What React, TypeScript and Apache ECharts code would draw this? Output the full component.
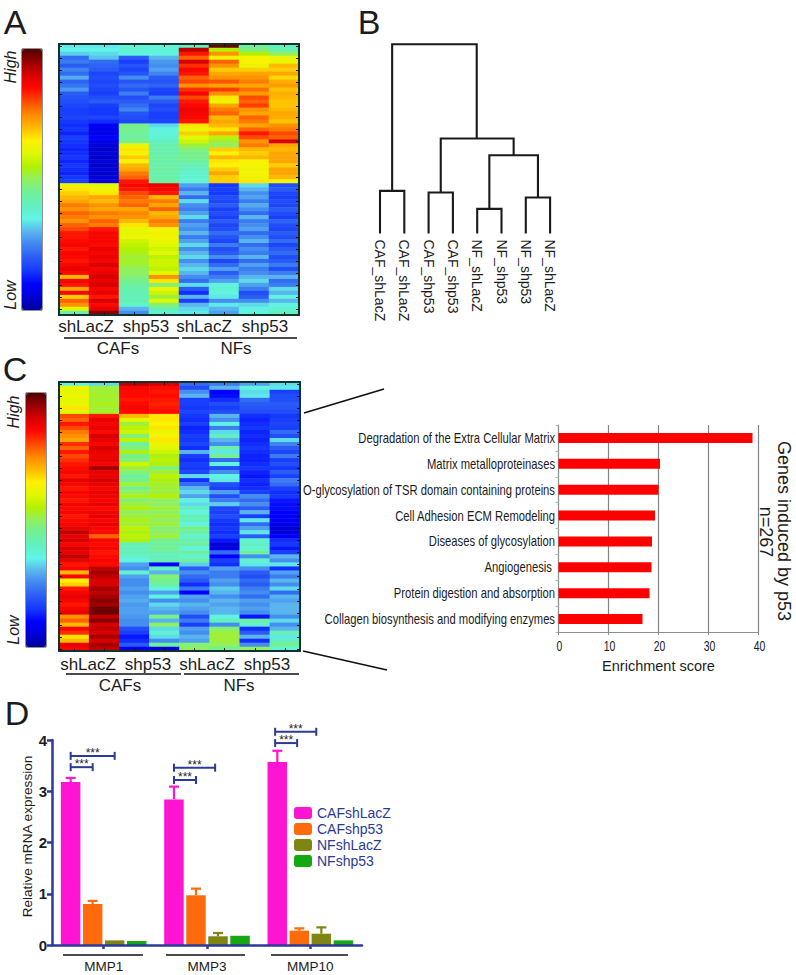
import React, { useEffect, useRef } from "react";
import * as echarts from "echarts";

const FONT = "'Liberation Sans', Arial, sans-serif";
const NAVY = "#2b3a98";
const INK = "#1c1c1c";

const jetStops = ["#00009a","#0000d8","#0000ff","#1538ff","#2a5cf5","#3f85f0","#5ab4ee","#60f5e8","#62f0c0","#70f098","#90f060","#b4f000","#e0f800","#fff000","#ffb800","#ff8800","#ff4800","#ff0800","#d80000","#980000","#500000"];

const heatColumns = ["1", "2", "3", "4", "5", "6", "7", "8"];

const heatA: number[][] = [
[34,34,37,37,40,98,44,40],[35,35,38,37,92,55,47,42],[32,33,36,36,84,74,55,50],[22,31,20,30,78,62,64,62],
[24,22,16,27,90,78,64,62],[20,21,19,26,82,74,62,70],[25,20,17,28,86,68,68,68],[22,17,19,25,84,72,72,72],
[29,18,26,20,78,74,74,67],[21,17,19,19,80,79,76,71],[23,18,22,21,74,72,72,73],[27,17,19,17,82,81,77,69],
[20,16,24,16,86,74,73,71],[19,18,18,24,80,66,80,70],[18,20,20,20,84,62,78,69],[17,16,22,17,85,72,81,69],
[16,15,25,18,87,76,74,70],[16,15,19,16,86,78,72,72],[17,17,18,16,85,70,78,71],[15,14,17,17,84,72,76,69],
[14,9,46,33,66,70,72,74],[15,8,46,36,62,66,78,76],[13,7,45,36,68,72,84,80],[16,10,44,38,60,56,80,78],
[15,7,46,40,58,52,74,90],[14,5,62,42,52,50,76,72],[13,4,66,43,48,68,70,70],[14,5,63,42,46,64,68,72],
[15,4,68,44,46,70,70,72],[13,5,64,43,44,66,64,72],[15,4,70,43,41,64,64,68],[14,5,72,44,40,68,62,72],
[13,4,76,42,38,72,64,72],[15,5,78,43,38,68,62,70],[16,6,84,44,37,68,66,64],
[62,60,86,88,28,15,33,18],[66,62,84,86,24,16,30,20],[68,66,80,84,30,15,26,17],[70,72,78,70,22,18,28,16],
[72,70,76,76,33,17,24,18],[76,74,78,72,26,20,29,17],[74,72,72,78,24,16,26,20],[78,76,75,70,28,18,22,18],
[76,74,74,72,33,16,30,16],[74,78,70,76,24,20,24,21],[78,76,66,74,28,17,26,18],[80,84,62,64,26,18,28,17],
[84,86,60,62,30,22,22,20],[84,86,63,63,24,19,26,18],[85,86,58,62,28,17,30,22],[86,85,56,60,33,24,22,17],
[84,88,55,58,26,18,26,20],[86,86,54,60,30,20,24,22],[85,88,52,56,33,26,30,18],[84,86,53,58,26,17,22,20],
[86,90,52,58,30,22,28,24],[88,86,50,56,33,28,24,18],[85,88,50,60,30,20,26,24],[70,90,48,74,26,24,30,30],
[86,88,46,66,22,28,33,22],[84,90,44,48,33,36,28,24],[72,86,42,62,20,38,24,33],[86,88,42,58,14,36,18,30],
[68,84,40,52,30,34,20,36],[78,90,42,60,16,26,26,30],[74,85,38,48,30,34,33,36],[60,88,30,42,33,30,36,38],
[42,96,26,38,34,28,36,40],
];

const heatC: number[][] = [
[36,33,92,90,22,24,28,33],[62,52,86,85,18,30,36,34],[60,52,85,84,26,10,33,16],[63,53,85,85,30,11,34,18],
[60,52,84,84,16,14,22,18],[62,54,85,83,16,18,20,20],[66,52,86,84,15,16,19,19],[60,53,85,85,17,18,18,18],
[80,84,70,66,15,30,14,15],[78,88,60,66,14,26,13,16],[84,86,52,64,16,36,14,17],[80,88,56,66,13,24,15,16],
[76,85,58,62,14,33,13,22],[74,90,48,64,16,40,14,18],[72,88,56,66,15,30,13,33],[82,86,44,62,17,26,14,25],
[78,90,48,60,14,42,15,20],[84,88,54,58,30,34,14,17],[80,87,46,54,16,46,13,24],[82,88,48,56,14,22,13,16],
[84,86,58,54,16,36,14,18],[85,94,52,48,15,18,15,15],[86,88,48,52,17,26,13,20],[84,88,44,56,33,36,12,16],
[88,90,46,54,14,34,14,24],[86,88,52,53,22,18,13,22],[84,86,46,52,30,16,14,16],[86,88,50,52,33,28,16,14],
[85,87,54,55,28,18,26,15],[84,86,48,50,36,24,22,12],[86,88,52,50,33,32,26,11],[85,85,54,52,40,17,20,11],
[86,87,50,50,36,16,30,10],[84,88,52,52,42,18,16,10],[85,86,54,50,40,15,34,9],[86,88,52,52,36,14,22,7],
[88,86,56,48,46,15,28,5],[92,85,54,50,44,14,34,5],[88,78,56,52,38,16,20,10],[90,86,54,46,42,12,38,14],
[86,85,42,44,44,5,40,15],[90,86,40,46,36,6,38,12],[88,84,42,42,44,22,44,16],[92,85,38,40,38,10,26,30],
[88,86,36,42,44,16,38,26],[84,85,28,10,32,14,34,34],[86,92,26,40,20,28,26,14],[70,94,38,30,26,24,20,28],
[86,92,28,48,22,24,18,24],[64,90,26,46,20,28,22,30],[68,90,26,44,14,26,20,26],[84,94,28,36,24,32,24,33],
[86,92,26,28,10,30,26,22],[88,94,28,36,28,26,22,30],[86,96,29,26,26,30,28,28],[84,94,27,33,30,28,26,30],
[86,98,28,30,28,30,28,30],[88,98,28,28,26,30,26,30],[74,92,27,46,18,36,12,26],[78,96,26,30,24,40,44,33],
[70,90,26,50,16,26,38,26],[86,92,18,33,28,48,14,30],[82,90,16,38,26,52,20,42],[66,94,12,33,30,52,30,34],
[70,90,14,26,28,52,14,40],[88,94,20,44,48,50,26,46],[86,92,8,6,50,46,50,36],
];

const groupLabels = ["shLacZ", "shp53", "shLacZ", "shp53"];
const cohortLabels = ["CAFs", "NFs"];

const leafNames = ["CAF_shLacZ","CAF_shLacZ","CAF_shp53","CAF_shp53","NF_shLacZ","NF_shp53","NF_shp53","NF_shLacZ"];
// [left x, left height, right x, right height, merge height]
const dendroLinks: number[][] = [
  [0, 0, 1, 0, 42.6],
  [2, 0, 3, 0, 41],
  [4, 0, 5, 0, 24.6],
  [6, 0, 7, 0, 36],
  [4.5, 24.6, 6.5, 36, 78.3],
  [2.5, 41, 5.5, 78.3, 95],
  [0.5, 42.6, 3.98, 95, 189.3],
];

const pathwayNames = ["Degradation of the Extra Cellular Matrix","Matrix metalloproteinases","O-glycosylation of TSR domain containing proteins","Cell Adhesion ECM Remodeling","Diseases of glycosylation","Angiogenesis ","Protein digestion and absorption","Collagen biosynthesis and modifying enzymes"];
const pathwayScores = [38.8, 20.3, 20, 19.3, 18.7, 18.6, 18.2, 16.8];
const scoreTicks = [0, 10, 20, 30, 40];

const genes = ["MMP1", "MMP3", "MMP10"];
const cafShLacZ = [3.18, 2.84, 3.57];
const cafShp53 = [0.8, 0.97, 0.28];
const nfShLacZ = [0.09, 0.17, 0.22];
const nfShp53 = [0.08, 0.18, 0.09];
const barColors = ["#ff14d4", "#ff6a0c", "#7f8412", "#16a810"];
// [gene, bar, bar top, error top]
const errorBars: number[][] = [
  [0, 0, 3.18, 3.26], [0, 1, 0.8, 0.86],
  [1, 0, 2.84, 3.09], [1, 1, 0.97, 1.1], [1, 2, 0.17, 0.234],
  [2, 0, 3.57, 3.79], [2, 1, 0.28, 0.325], [2, 2, 0.22, 0.344],
];
// [gene, from bar, to bar, level]
const brackets: number[][] = [
  [0, 0, 1, 3.47], [0, 0, 2, 3.69],
  [1, 0, 1, 3.22], [1, 0, 1.87, 3.46],
  [2, -0.1, 0.9, 3.94], [2, -0.1, 1.77, 4.16],
];

const BAR_STEP = 22;

function heatData(rows: number[][]) {
  const out: number[][] = [];
  rows.forEach((r, y) => r.forEach((v, x) => out.push([x, y, v])));
  return out;
}

function textEl(text: string, x: number, y: number, fontSize: number, extra: any = {}, rotation = 0, color = INK) {
  return {
    type: "text", x, y, rotation, silent: true,
    style: { text, fontSize, fontFamily: FONT, fill: color, textAlign: "center", textVerticalAlign: "middle", ...extra },
  };
}
function lineEl(x1: number, y1: number, x2: number, y2: number, lineWidth = 1.3) {
  return { type: "line", silent: true, shape: { x1, y1, x2, y2 }, style: { stroke: "#111", lineWidth } };
}

export default function App() {
  const ref = useRef<HTMLDivElement>(null);
  useEffect(() => {
    const chart = echarts.init(ref.current!, undefined, { renderer: "svg" });
    const rowsA = heatA.map((_, i) => String(i));
    const rowsC = heatC.map((_, i) => String(i));
    const frame = { show: true, onZero: false, lineStyle: { color: "#14302a", width: 2 } };
    const tick = { show: true, inside: true, length: 3, alignWithLabel: true, lineStyle: { color: "#111", width: 1 } };
    const hx = (gridIndex: number, position: string) => ({
      type: "category", gridIndex, position, data: heatColumns, z: 5,
      axisLine: frame, axisTick: tick, axisLabel: { show: false }, splitLine: { show: false },
    });
    const hy = (gridIndex: number, position: string, names: string[]) => ({
      type: "category", gridIndex, position, data: names, inverse: true, z: 5,
      axisLine: frame, axisTick: { ...tick, interval: 2 }, axisLabel: { show: false }, splitLine: { show: false },
    });
    const barBase = { type: "bar", xAxisIndex: 6, yAxisIndex: 6, barWidth: 19.5, barGap: "13%" };
    const option: any = {
      animation: false,
      backgroundColor: "#fff",
      textStyle: { fontFamily: FONT },
      grid: [
        { left: 59, top: 44, width: 240, height: 271 },
        { left: 355.7, top: 43.5, width: 218.7, height: 190 },
        { left: 59, top: 382, width: 241, height: 269 },
        { left: 558.5, top: 425, width: 200, height: 207 },
        { left: 52, top: 740, width: 310, height: 205 },
      ],
      xAxis: [
        hx(0, "bottom"), hx(0, "top"),
        {
          type: "value", gridIndex: 1, min: -1, max: 8, interval: 1,
          axisLine: { show: false }, axisTick: { show: false }, splitLine: { show: false },
          axisLabel: {
            rotate: -90, margin: 6, fontSize: 14, color: INK, fontFamily: FONT,
            formatter: (v: number) => leafNames[v] ?? "",
          },
        },
        hx(2, "bottom"), hx(2, "top"),
        {
          type: "value", gridIndex: 3, min: 0, max: 40, interval: 10,
          axisLine: { show: true, lineStyle: { color: "#8a9090", width: 1 } },
          axisTick: { show: true, length: 3, lineStyle: { color: "#8a9090" } },
          splitLine: { show: true, lineStyle: { color: "#7f8585", width: 1.2 } },
          axisLabel: { show: false },
          name: "Enrichment score", nameLocation: "middle", nameGap: 26,
          nameTextStyle: { fontSize: 14.5, color: INK, fontFamily: FONT },
        },
        {
          type: "category", gridIndex: 4, data: genes, z: 5,
          axisLine: { show: true, lineStyle: { color: NAVY, width: 2.5 } },
          axisTick: { show: true, alignWithLabel: true, length: 4, lineStyle: { color: NAVY, width: 2.5 } },
          axisLabel: { fontSize: 13.5, color: INK, margin: 14, fontFamily: FONT },
        },
      ],
      yAxis: [
        hy(0, "left", rowsA), hy(0, "right", rowsA),
        { type: "value", gridIndex: 1, min: 0, max: 190, show: false },
        hy(2, "left", rowsC), hy(2, "right", rowsC),
        {
          type: "category", gridIndex: 3, data: pathwayNames, inverse: true,
          axisLine: { show: true, lineStyle: { color: "#8a9090", width: 1 } },
          axisTick: { show: true, length: 3, lineStyle: { color: "#b0b4b4" } },
          axisLabel: { show: false },
        },
        {
          type: "value", gridIndex: 4, min: 0, max: 4, interval: 1, z: 5,
          axisLine: { show: true, lineStyle: { color: NAVY, width: 2.5 } },
          axisTick: { show: true, length: 5, lineStyle: { color: NAVY, width: 2.5 } },
          axisLabel: { fontSize: 15, fontWeight: "bold", color: INK, margin: 5, fontFamily: FONT },
          splitLine: { show: false },
          name: "Relative mRNA expression", nameLocation: "middle", nameGap: 14,
          nameTextStyle: { fontSize: 13.6, color: INK, fontFamily: FONT, padding: [0, 0, 0, 12] },
        },
      ],
      visualMap: [
        {
          type: "continuous", seriesIndex: 0, dimension: 2, min: 0, max: 100, left: 22, top: 49,
          itemWidth: 20, itemHeight: 261, padding: 0, calculable: false, hoverLink: false, text: ["", ""],
          inRange: { color: jetStops },
        },
        {
          type: "continuous", seriesIndex: 2, dimension: 2, min: 0, max: 100, left: 26, top: 393,
          itemWidth: 20, itemHeight: 254, padding: 0, calculable: false, hoverLink: false, text: ["", ""],
          inRange: { color: jetStops },
        },
      ],
      legend: {
        data: ["CAFshLacZ", "CAFshp53", "NFshLacZ", "NFshp53"],
        orient: "vertical", left: 294, top: 806, padding: 0, itemWidth: 18, itemHeight: 12, itemGap: 2,
        textStyle: { color: NAVY, fontSize: 14, fontFamily: FONT },
        itemStyle: { borderWidth: 0 },
      },
      series: [
        { type: "heatmap", xAxisIndex: 0, yAxisIndex: 0, data: heatData(heatA), itemStyle: { borderWidth: 0 } },
        {
          type: "custom", xAxisIndex: 2, yAxisIndex: 2, data: dendroLinks, clip: false,
          renderItem: (_: any, api: any) => {
            const p = (x: number, y: number) => api.coord([x, y]);
            const [xa, ha, xb, hb, h] = [0, 1, 2, 3, 4].map((d) => api.value(d));
            return {
              type: "polyline",
              shape: { points: [p(xa, ha), p(xa, h), p(xb, h), p(xb, hb)] },
              style: { stroke: "#1a1a1a", lineWidth: 2.1, fill: "none" },
            };
          },
        },
        { type: "heatmap", xAxisIndex: 3, yAxisIndex: 3, data: heatData(heatC), itemStyle: { borderWidth: 0 } },
        {
          type: "bar", xAxisIndex: 5, yAxisIndex: 5, data: pathwayScores, barWidth: 10,
          itemStyle: { color: "#ff0000" },
        },
        { ...barBase, name: "CAFshLacZ", data: cafShLacZ, itemStyle: { color: barColors[0] } },
        { ...barBase, name: "CAFshp53", data: cafShp53, itemStyle: { color: barColors[1] } },
        { ...barBase, name: "NFshLacZ", data: nfShLacZ, itemStyle: { color: barColors[2] } },
        { ...barBase, name: "NFshp53", data: nfShp53, itemStyle: { color: barColors[3] } },
        {
          type: "custom", xAxisIndex: 6, yAxisIndex: 6, data: errorBars, z: 1,
          renderItem: (_: any, api: any) => {
            const bar = api.value(1);
            const dx = (bar - 1.5) * BAR_STEP;
            const top = api.coord([api.value(0), api.value(3)]);
            const base = api.coord([api.value(0), api.value(2)]);
            const x = top[0] + dx;
            const stroke = barColors[bar];
            return {
              type: "group",
              children: [
                { type: "line", shape: { x1: x, y1: base[1], x2: x, y2: top[1] }, style: { stroke, lineWidth: 2.2 } },
                { type: "line", shape: { x1: x - 5, y1: top[1], x2: x + 5, y2: top[1] }, style: { stroke, lineWidth: 2.2 } },
              ],
            };
          },
        },
        {
          type: "custom", xAxisIndex: 6, yAxisIndex: 6, data: brackets, clip: false, z: 6,
          renderItem: (_: any, api: any) => {
            const p = api.coord([api.value(0), api.value(3)]);
            const x1 = p[0] + (api.value(1) - 1.5) * BAR_STEP;
            const x2 = p[0] + (api.value(2) - 1.5) * BAR_STEP;
            const y = p[1];
            const s = { stroke: NAVY, lineWidth: 2 };
            return {
              type: "group",
              children: [
                { type: "line", shape: { x1, y1: y, x2, y2: y }, style: s },
                { type: "line", shape: { x1, y1: y - 4, x2: x1, y2: y + 4 }, style: s },
                { type: "line", shape: { x1: x2, y1: y - 4, x2, y2: y + 4 }, style: s },
                {
                  type: "text", x: (x1 + x2) / 2, y: y + 3,
                  style: { text: "***", fontSize: 12, fontFamily: FONT, fill: "#222", textAlign: "center", textVerticalAlign: "bottom" },
                },
              ],
            };
          },
        },
        {
          // condensed pathway labels, anchored on the category axis
          type: "custom", xAxisIndex: 5, yAxisIndex: 5, clip: false, z: 6,
          data: pathwayNames.map((_, i) => [0, i]),
          renderItem: (_: any, api: any) => {
            const i = api.value(1);
            const p = api.coord([0, i]);
            return {
              type: "text", x: p[0] - 3.5, y: p[1], scaleX: 0.775,
              style: { text: pathwayNames[i], fontSize: 14.5, fontFamily: FONT, fill: INK, textAlign: "right", textVerticalAlign: "middle" },
            };
          },
        },
        {
          // condensed score ticks, anchored on the value axis
          type: "custom", xAxisIndex: 5, yAxisIndex: 5, clip: false, z: 6,
          data: scoreTicks.map((v) => [v, 7]),
          renderItem: (_: any, api: any) => {
            const v = api.value(0);
            const p = api.coord([v, 7]);
            return {
              type: "text", x: p[0] + 1, y: p[1] + 27, scaleX: 0.72,
              style: { text: String(v), fontSize: 14.5, fontFamily: FONT, fill: INK, textAlign: "center", textVerticalAlign: "middle" },
            };
          },
        },
      ],
      graphic: [
        textEl("A", 15, 22, 34),
        textEl("B", 369, 22, 34),
        textEl("C", 15, 369, 34),
        textEl("D", 17, 713, 34),
        textEl("High", 10, 67, 16, { fontStyle: "italic" }, Math.PI / 2),
        textEl("Low", 10, 295, 16, { fontStyle: "italic" }, Math.PI / 2),
        textEl("High", 13, 412, 16, { fontStyle: "italic" }, Math.PI / 2),
        textEl("Low", 13, 630, 16, { fontStyle: "italic" }, Math.PI / 2),
        ...[86, 146, 204, 265].map((x, i) => textEl(groupLabels[i], x, 326, 17)),
        ...[88, 148, 207, 267].map((x, i) => textEl(groupLabels[i], x, 664, 17)),
        textEl(cohortLabels[0], 118, 348, 17), textEl(cohortLabels[1], 236, 348, 17),
        textEl(cohortLabels[0], 120, 685, 17), textEl(cohortLabels[1], 239, 685, 17),
        lineEl(64, 338, 179, 338), lineEl(182, 338, 297, 338),
        lineEl(66, 674, 181, 674), lineEl(184, 674, 299, 674),
        lineEl(304, 413, 384, 389, 1.7), lineEl(303, 651, 387, 670, 1.7),
        lineEl(63, 955, 143, 955), lineEl(166, 955, 245, 955), lineEl(271, 955, 348, 955),
        textEl("Genes induced by p53", 784, 531, 18, {}, -Math.PI / 2),
        textEl("n=267", 766, 532, 18, {}, -Math.PI / 2),
        { type: "rect", silent: true, shape: { x: 22, y: 49, width: 20, height: 261 }, style: { fill: "none", stroke: "#1a2a2a", lineWidth: 1 } },
        { type: "rect", silent: true, shape: { x: 26, y: 393, width: 20, height: 254 }, style: { fill: "none", stroke: "#1a2a2a", lineWidth: 1 } },
      ],
    };
    chart.setOption(option);
    return () => chart.dispose();
  }, []);
  return <div ref={ref} style={{ position: "absolute", left: 0, top: 0, width: 796, height: 975 }} />;
}
